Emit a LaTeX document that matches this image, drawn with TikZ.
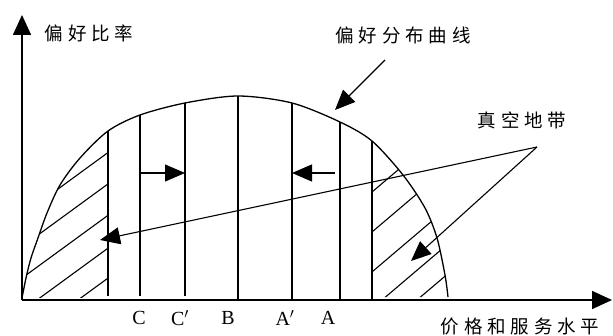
\documentclass[tikz,border=0pt]{standalone}
\usepackage{fontspec}
\setmainfont{Liberation Serif}
\newfontfamily\cjk{Noto Sans CJK SC}[LetterSpace=26]
\usetikzlibrary{arrows.meta}

\begin{document}
\begin{tikzpicture}[
        x=1pt,
        y=-1pt,
        eje/.style={
            line width=1.6pt,
            -{Triangle[length=20pt,width=18pt]}
        },
        curva/.style={
            line width=1.3pt,
            line join=round
        },
        division/.style={
            line width=1.4pt
        },
        rayado/.style={
            line width=1.1pt
        },
        flecha/.style={
            line width=1.1pt,
            -{Triangle[length=20pt,width=17pt]}
        },
        etiqueta/.style={
            font=\cjk\fontsize{18.5}{20}\selectfont,
            inner sep=0pt
        },
        letra/.style={
            font=\fontsize{20}{24}\selectfont,
            inner sep=0pt
        }
    ]

    \useasboundingbox (0,0) rectangle (613,336);

    % Ejes
    \coordinate (O) at (22,300);
    \coordinate (yfin) at (22,15);
    \coordinate (xfin) at (612,300);
    \draw[eje] (O) -- (yfin);
    \draw[eje] (O) -- (xfin);

    % Curva de preferencia
    \draw[curva] plot[smooth] coordinates {
        (22,298) (26,278) (31,258) (38,238) (47,213) (60,185) (80,158)
        (108,131) (140,115) (185,103) (238,96) (292,103) (340,122)
        (372,141) (403,175) (425,208) (437,238) (445,275) (448,297)};

    % Zonas rayadas
    \begin{scope}
        \clip plot[smooth] coordinates {
            (22,298) (26,278) (31,258) (38,238) (47,213) (60,185) (80,158)
            (108,131) (140,115) (185,103) (238,96) (292,103) (340,122)
            (372,141) (403,175) (425,208) (437,238) (445,275) (448,297)};
        \begin{scope}
            \clip (0,0) rectangle (108,300);
            \draw[rayado] (78,300) -- (328,117.5);
            \draw[rayado] (37,300) -- (287,117.5);
            \draw[rayado] (-8,300) -- (242,117.5);
            \draw[rayado] (-51,300) -- (199,117.5);
            \draw[rayado] (-94,300) -- (156,117.5);
        \end{scope}
        \begin{scope}
            \clip (372,0) rectangle (470,300);
            \draw[rayado] (245,300) -- (445,130);
            \draw[rayado] (292,300) -- (492,130);
            \draw[rayado] (339,300) -- (539,130);
            \draw[rayado] (382,300) -- (582,130);
            \draw[rayado] (417,300) -- (617,130);
        \end{scope}
    \end{scope}

    % Divisiones verticales
    \coordinate (Lab) at (108,296);
    \coordinate (Larr) at (108,131);
    \coordinate (Cab) at (140,296);
    \coordinate (Carr) at (140,115);
    \coordinate (Cpab) at (185,296);
    \coordinate (Cparr) at (185,103);
    \coordinate (Bab) at (238,300);
    \coordinate (Barr) at (238,96);
    \coordinate (Apab) at (292,299);
    \coordinate (Aparr) at (292,103);
    \coordinate (Aab) at (340,299);
    \coordinate (Aarr) at (340,122);
    \coordinate (Rab) at (372,299);
    \coordinate (Rarr) at (372,141);
    \draw[division] (Lab) -- (Larr);
    \draw[division] (Cab) -- (Carr);
    \draw[division] (Cpab) -- (Cparr);
    \draw[division] (Bab) -- (Barr);
    \draw[division] (Apab) -- (Aparr);
    \draw[division] (Aab) -- (Aarr);
    \draw[division] (Rab) -- (Rarr);

    % Desplazamientos
    \coordinate (fC) at (140,173);
    \coordinate (fCp) at (185,173);
    \coordinate (fA) at (335,173);
    \coordinate (fAp) at (292,173);
    \draw[flecha] (fC) -- (fCp);
    \draw[flecha] (fA) -- (fAp);

    % Textos
    \node[etiqueta] (ejeY) at (89,33) {偏好比率};
    \node[etiqueta] (ejeX) at (520,327) {价格和服务水平};
    \node[etiqueta] (nCurva) at (403,35) {偏好分布曲线};
    \node[etiqueta] (nVacio) at (522,120) {真空地带};

    \node[letra] (lC) at (139,318) {C};
    \node[letra] (lCp) at (180,318) {C$'$};
    \node[letra] (lB) at (228,318) {B};
    \node[letra] (lAp) at (285,318) {A$'$};
    \node[letra] (lA) at (328,318) {A};

    % Indicadores
    \coordinate (pc1) at (385,60);
    \coordinate (pc2) at (335,110);
    \draw[flecha] (pc1) -- (pc2);

    \coordinate (vertice) at (537,147);
    \coordinate (vizq) at (100,240);
    \coordinate (vder) at (411,261);
    \draw[flecha] (vertice) -- (vizq);
    \draw[flecha] (vertice) -- (vder);

\end{tikzpicture}
\end{document}
